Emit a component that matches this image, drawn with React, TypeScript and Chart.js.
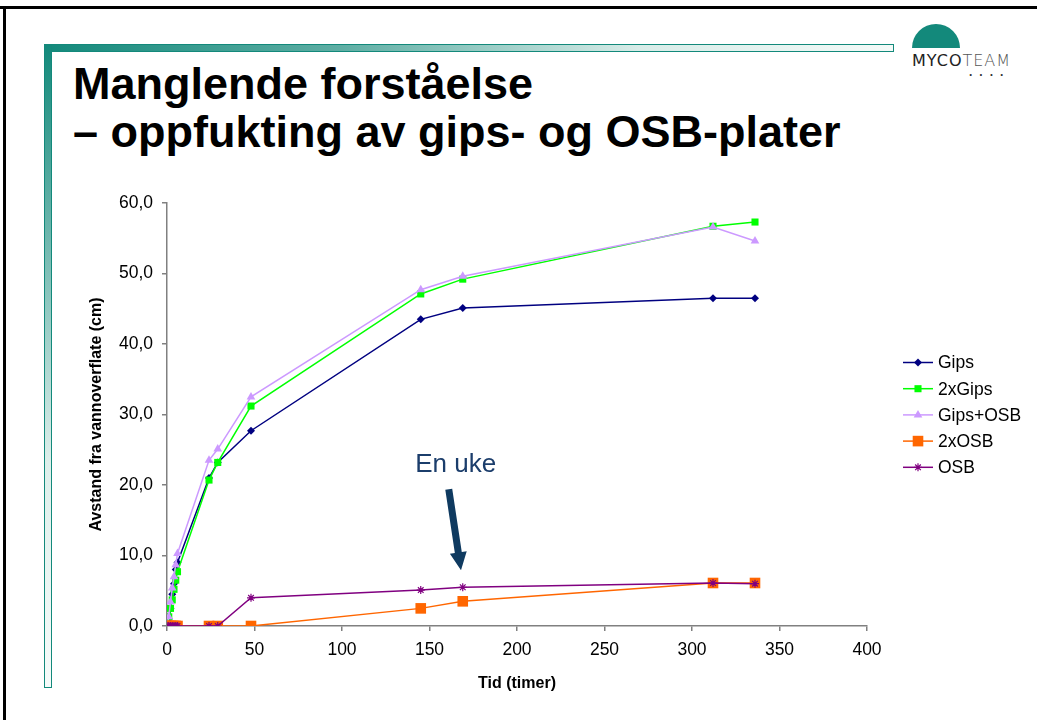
import React, { useEffect, useRef } from "react";
import { Chart, registerables } from "chart.js";

Chart.register(...registerables);

// ---- data ----
const times = [0, 1, 2, 3, 4, 5, 6, 24, 29, 48, 145, 169, 312, 336];
const gips = [0, 1.0, 2.5, 4.5, 6.0, 8.0, 9.0, 21.0, 23.2, 27.7, 43.5, 45.1, 46.5, 46.5];
const gips2x = [0, 1.3, 2.5, 3.7, 5.2, 6.5, 7.7, 20.7, 23.2, 31.2, 47.1, 49.2, 56.7, 57.3];
const gipsOsb = [0, 1.3, 3.4, 5.4, 7.0, 8.7, 10.3, 23.5, 25.1, 32.5, 47.7, 49.6, 56.6, 54.6];
const osb2x = [0, 0, 0, 0, 0, 0, 0, 0, 0, 0, 2.5, 3.5, 6.1, 6.1];
const osb = [0, 0, 0, 0, 0, 0, 0, 0, 0, 4.0, 5.1, 5.5, 6.1, 6.0];

const seriesNames = ["Gips", "2xGips", "Gips+OSB", "2xOSB", "OSB"];
const seriesValues = [gips, gips2x, gipsOsb, osb2x, osb];
const seriesColors = ["#000080", "#00FF00", "#CC99FF", "#FF6600", "#800080"];
const seriesStyles = ["rectRot", "rect", "triangle", "rect", "star"];
const seriesRadius = [4, 5, 5, 7.5, 4];

const xTitle = "Tid (timer)";
const yTitle = "Avstand fra vannoverflate (cm)";
const noteText = "En uke";
const noteTextPos = { x: 165, y: 22.8 };
const noteArrowFrom = { x: 161, y: 19.4 };
const noteArrowTo = { x: 168, y: 7.9 };

const FONT = "'Liberation Sans', Arial, Helvetica, sans-serif";
const TEAL = "#13897B";

function drawMarker(ctx: CanvasRenderingContext2D, style: string, x: number, y: number, r: number, color: string) {
  ctx.save();
  ctx.fillStyle = color;
  ctx.strokeStyle = color;
  ctx.lineWidth = 1.2;
  ctx.beginPath();
  if (style === "rect") {
    const s = Math.SQRT1_2 * r;
    ctx.rect(x - s, y - s, 2 * s, 2 * s);
    ctx.fill();
  } else if (style === "rectRot") {
    ctx.moveTo(x, y - r);
    ctx.lineTo(x + r, y);
    ctx.lineTo(x, y + r);
    ctx.lineTo(x - r, y);
    ctx.closePath();
    ctx.fill();
  } else if (style === "triangle") {
    const a = Math.PI / 2;
    for (let i = 0; i < 3; i++) {
      const ang = -a + (i * 2 * Math.PI) / 3;
      const px = x + Math.cos(ang) * r;
      const py = y + Math.sin(ang) * r;
      if (i === 0) ctx.moveTo(px, py);
      else ctx.lineTo(px, py);
    }
    ctx.closePath();
    ctx.fill();
  } else if (style === "star") {
    for (let i = 0; i < 4; i++) {
      const ang = (i * Math.PI) / 4;
      ctx.moveTo(x - Math.cos(ang) * r, y - Math.sin(ang) * r);
      ctx.lineTo(x + Math.cos(ang) * r, y + Math.sin(ang) * r);
    }
    ctx.stroke();
  }
  ctx.restore();
}

const legendPlugin = {
  id: "customLegend",
  afterDraw(chart: any) {
    const ctx = chart.ctx as CanvasRenderingContext2D;
    const x0 = 903;
    const x1 = 933;
    const startY = 362.5;
    const gap = 26.2;
    ctx.save();
    ctx.font = `17.5px ${FONT}`;
    ctx.textBaseline = "middle";
    seriesNames.forEach((name, i) => {
      const y = startY + i * gap;
      ctx.strokeStyle = seriesColors[i];
      ctx.lineWidth = 1.5;
      ctx.beginPath();
      ctx.moveTo(x0, y);
      ctx.lineTo(x1, y);
      ctx.stroke();
      drawMarker(ctx, seriesStyles[i], (x0 + x1) / 2, y, seriesRadius[i], seriesColors[i]);
      ctx.fillStyle = "#000";
      ctx.fillText(name, 938, y + 1);
    });
    ctx.restore();
  },
};

const notePlugin = {
  id: "note",
  afterDatasetsDraw(chart: any) {
    const ctx = chart.ctx as CanvasRenderingContext2D;
    const xs = chart.scales.x;
    const ys = chart.scales.y;
    const tx = xs.getPixelForValue(noteTextPos.x);
    const ty = ys.getPixelForValue(noteTextPos.y);
    const ax0 = xs.getPixelForValue(noteArrowFrom.x);
    const ay0 = ys.getPixelForValue(noteArrowFrom.y);
    const ax1 = xs.getPixelForValue(noteArrowTo.x);
    const ay1 = ys.getPixelForValue(noteArrowTo.y);
    ctx.save();
    ctx.font = `26px ${FONT}`;
    ctx.fillStyle = "#1B3D6B";
    ctx.textAlign = "center";
    ctx.textBaseline = "middle";
    ctx.fillText(noteText, tx, ty);
    // arrow
    const dx = ax1 - ax0;
    const dy = ay1 - ay0;
    const len = Math.hypot(dx, dy);
    const ux = dx / len;
    const uy = dy / len;
    const nx = -uy;
    const ny = ux;
    const headLen = 18;
    const headW = 8.5;
    const shaftW = 3.5;
    const bx = ax1 - ux * headLen;
    const by = ay1 - uy * headLen;
    ctx.fillStyle = "#0F3A60";
    ctx.beginPath();
    ctx.moveTo(ax0 + nx * shaftW, ay0 + ny * shaftW);
    ctx.lineTo(bx + nx * shaftW, by + ny * shaftW);
    ctx.lineTo(bx + nx * headW, by + ny * headW);
    ctx.lineTo(ax1, ay1);
    ctx.lineTo(bx - nx * headW, by - ny * headW);
    ctx.lineTo(bx - nx * shaftW, by - ny * shaftW);
    ctx.lineTo(ax0 - nx * shaftW, ay0 - ny * shaftW);
    ctx.closePath();
    ctx.fill();
    ctx.restore();
  },
};

function fmt(v: number) {
  return v.toFixed(1).replace(".", ",");
}

export default function App() {
  const ref = useRef<HTMLCanvasElement | null>(null);

  useEffect(() => {
    if (!ref.current) return;
    const datasets = seriesNames.map((name, i) => ({
      label: name,
      data: times.map((t, k) => ({ x: t, y: seriesValues[i][k] })),
      borderColor: seriesColors[i],
      backgroundColor: seriesColors[i],
      pointBackgroundColor: seriesColors[i],
      pointBorderColor: seriesColors[i],
      pointStyle: seriesStyles[i],
      pointRadius: seriesRadius[i],
      pointBorderWidth: seriesStyles[i] === "star" ? 1.2 : 0,
      borderWidth: 1.5,
      tension: 0,
      fill: false,
      order: 5 - i,
    }));
    const chart = new Chart(ref.current, {
      type: "line",
      data: { datasets },
      plugins: [legendPlugin, notePlugin],
      options: {
        animation: false,
        responsive: false,
        maintainAspectRatio: false,
        layout: { padding: { left: 83, right: 170, top: 203, bottom: 23 } },
        plugins: {
          legend: { display: false },
          tooltip: { enabled: false },
          title: { display: false },
        },
        scales: {
          x: {
            type: "linear",
            min: 0,
            max: 400,
            afterFit: (s: any) => {
              s.height = 71;
            },
            ticks: {
              stepSize: 50,
              color: "#000",
              font: { family: FONT, size: 17.5 },
              padding: 9,
              maxRotation: 0,
            },
            grid: {
              drawOnChartArea: false,
              drawTicks: true,
              tickLength: 5,
              color: "#808080",
              lineWidth: 1.5,
            },
            border: { display: true, color: "#808080", width: 1.5 },
            title: {
              display: true,
              text: xTitle,
              color: "#000",
              font: { family: FONT, size: 16, weight: "bold" },
              padding: { top: 4, bottom: 4 },
            },
          },
          y: {
            type: "linear",
            min: 0,
            max: 60,
            afterFit: (s: any) => {
              s.width = 84;
            },
            ticks: {
              stepSize: 10,
              color: "#000",
              font: { family: FONT, size: 17.5 },
              padding: 9,
              callback: (v: any) => fmt(Number(v)),
            },
            grid: {
              drawOnChartArea: false,
              drawTicks: true,
              tickLength: 5,
              color: "#808080",
              lineWidth: 1.5,
            },
            border: { display: true, color: "#808080", width: 1.5 },
            title: {
              display: true,
              text: yTitle,
              color: "#000",
              font: { family: FONT, size: 16, weight: "bold" },
              padding: { top: 4, bottom: 4 },
            },
          },
        },
      } as any,
    });
    return () => chart.destroy();
  }, []);

  return (
    <div
      style={{
        position: "fixed",
        left: 0,
        top: 0,
        width: 1037,
        height: 720,
        background: "#fff",
        overflow: "hidden",
        fontFamily: FONT,
      }}
    >
      {/* slide frame */}
      <div style={{ position: "absolute", left: 0, top: 6, width: 1037, height: 3, background: "#000" }} />
      <div style={{ position: "absolute", left: 3, top: 6, width: 3, height: 714, background: "#000" }} />
      {/* teal bars */}
      <div
        style={{
          position: "absolute",
          left: 44,
          top: 44,
          width: 848,
          height: 6,
          border: `1px solid ${TEAL}`,
          background: `linear-gradient(to right, ${TEAL} 0%, #5FAEA4 35%, #D8ECE8 70%, #F4FAF8 100%)`,
        }}
      />
      <div
        style={{
          position: "absolute",
          left: 44,
          top: 44,
          width: 6,
          height: 642,
          border: `1px solid ${TEAL}`,
          background: `linear-gradient(to bottom, ${TEAL} 0%, #6FB7AE 30%, #DDEFEB 65%, #F6FBFA 100%)`,
        }}
      />
      {/* logo */}
      <div
        style={{
          position: "absolute",
          left: 912,
          top: 24,
          width: 48,
          height: 24,
          background: TEAL,
          borderTopLeftRadius: 24,
          borderTopRightRadius: 24,
        }}
      />
      <div
        style={{
          position: "absolute",
          left: 912,
          top: 52,
          fontSize: 16,
          lineHeight: "18px",
          letterSpacing: 1,
          whiteSpace: "nowrap",
          fontFamily: "'DejaVu Sans', sans-serif",
        }}
      >
        <span style={{ color: "#222", fontWeight: 400 }}>MYCO</span>
        <span style={{ color: "#555", fontWeight: 200 }}>TEAM</span>
      </div>
      <div
        style={{
          position: "absolute",
          left: 969,
          top: 65,
          fontSize: 12,
          letterSpacing: 7,
          color: "#333",
          fontWeight: 700,
        }}
      >
        ....
      </div>
      {/* title */}
      <div
        style={{
          position: "absolute",
          left: 73,
          top: 60,
          fontSize: 45,
          lineHeight: "48px",
          fontWeight: 700,
          color: "#000",
          whiteSpace: "nowrap",
        }}
      >
        <div>Manglende forståelse</div>
        <div>– oppfukting av gips- og OSB-plater</div>
      </div>
      <canvas
        ref={ref}
        width={1037}
        height={720}
        style={{ position: "absolute", left: 0, top: 0, width: 1037, height: 720 }}
      />
    </div>
  );
}
